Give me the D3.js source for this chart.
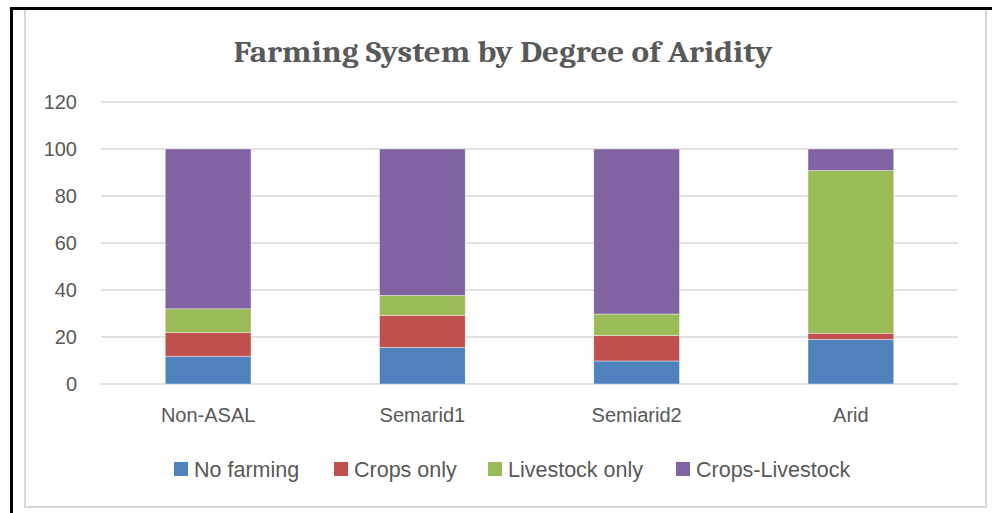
<!DOCTYPE html>
<html>
<head>
<meta charset="utf-8">
<script src="https://cdn.jsdelivr.net/npm/d3@7"></script>
<style>
  body { margin: 0; background: #fff; }
  svg { display: block; }
</style>
</head>
<body>
<svg id="chart" width="992" height="513"></svg>
<script>
const categories = ["Non-ASAL", "Semarid1", "Semiarid2", "Arid"];
const seriesNames = ["No farming", "Crops only", "Livestock only", "Crops-Livestock"];
const noFarming = [11.8, 15.6, 9.8, 19.0];
const cropsOnly = [10.1, 13.6, 10.8, 2.6];
const livestockOnly = [10.1, 8.5, 9.2, 69.2];
const cropsLivestock = [68.0, 62.3, 70.2, 9.2];
const yTicks = [0, 20, 40, 60, 80, 100, 120];
const colors = ["#4f81bd", "#c0504d", "#9bbb59", "#8064a2"];

const svg = d3.select("#chart");

// frame
svg.append("rect")
    .attr("x", 25).attr("y", 9)
    .attr("width", 961).attr("height", 498)
    .attr("fill", "#fff")
    .attr("stroke", "#d9d9d9")
    .attr("stroke-width", 2);
svg.append("line")
    .attr("x1", 11.5).attr("y1", 9).attr("x2", 11.5).attr("y2", 513)
    .attr("stroke", "#000").attr("stroke-width", 3);
svg.append("line")
    .attr("x1", 10).attr("y1", 8.5).attr("x2", 992).attr("y2", 8.5)
    .attr("stroke", "#000").attr("stroke-width", 3);

svg.append("text")
    .attr("x", 503).attr("y", 62)
    .attr("text-anchor", "middle")
    .attr("font-family", "Cambria, 'DejaVu Serif', serif")
    .attr("font-weight", "bold")
    .attr("font-size", 30)
    .attr("fill", "#595959")
    .attr("textLength", 539)
    .attr("lengthAdjust", "spacingAndGlyphs")
    .text("Farming System by Degree of Aridity");

const margin = {left: 101, right: 958, top: 102, bottom: 384};

const x = d3.scaleBand()
    .domain(categories)
    .range([margin.left, margin.right])
    .paddingInner(0.6)
    .paddingOuter(0.3);

const y = d3.scaleLinear()
    .domain([0, 120])
    .range([margin.bottom, margin.top]);

// grid
svg.append("g")
    .selectAll("line")
    .data(yTicks)
    .enter()
    .append("line")
    .attr("x1", margin.left)
    .attr("x2", margin.right)
    .attr("y1", (d) => y(d))
    .attr("y2", (d) => y(d))
    .attr("stroke", "#d9d9d9")
    .attr("stroke-width", 1.5);

const yAxis = svg.append("g")
    .attr("transform", "translate(" + margin.left + ",0)")
    .call(d3.axisLeft(y).tickValues(yTicks).tickSize(0).tickPadding(24));
yAxis.select(".domain").remove();
yAxis.selectAll("text")
    .attr("font-family", "'Liberation Sans', Arial, sans-serif")
    .attr("font-size", 20)
    .attr("fill", "#595959");

const xAxis = svg.append("g")
    .attr("transform", "translate(0," + margin.bottom + ")")
    .call(d3.axisBottom(x).tickSize(0).tickPadding(24));
xAxis.select(".domain").remove();
xAxis.selectAll("text")
    .attr("font-family", "'Liberation Sans', Arial, sans-serif")
    .attr("font-size", 20)
    .attr("fill", "#595959");

const table = categories.map((c, i) => ({
    name: c,
    "No farming": noFarming[i],
    "Crops only": cropsOnly[i],
    "Livestock only": livestockOnly[i],
    "Crops-Livestock": cropsLivestock[i]
}));
const stacked = d3.stack().keys(seriesNames)(table);

svg.append("g")
    .selectAll("g")
    .data(stacked)
    .enter()
    .append("g")
    .attr("fill", (d, i) => colors[i])
    .selectAll("rect")
    .data((d) => d)
    .enter()
    .append("rect")
    .attr("x", (d) => x(d.data.name))
    .attr("width", x.bandwidth())
    .attr("y", (d) => y(d[1]))
    .attr("height", (d) => y(d[0]) - y(d[1]))
    .attr("stroke", "#fff")
    .attr("stroke-opacity", 0.5)
    .attr("stroke-width", 0.75);

// legend
const legendX = [174, 334, 488, 676];
const legend = svg.append("g")
    .selectAll("g")
    .data(seriesNames)
    .enter()
    .append("g")
    .attr("transform", (d, i) => "translate(" + legendX[i] + ",469)");
legend.append("rect")
    .attr("x", 0).attr("y", -7)
    .attr("width", 14).attr("height", 14)
    .attr("fill", (d, i) => colors[i]);
legend.append("text")
    .attr("x", 20).attr("y", 0)
    .attr("dy", "0.36em")
    .attr("font-family", "'Liberation Sans', Arial, sans-serif")
    .attr("font-size", 21.5)
    .attr("fill", "#595959")
    .text((d) => d);
</script>
</body>
</html>
